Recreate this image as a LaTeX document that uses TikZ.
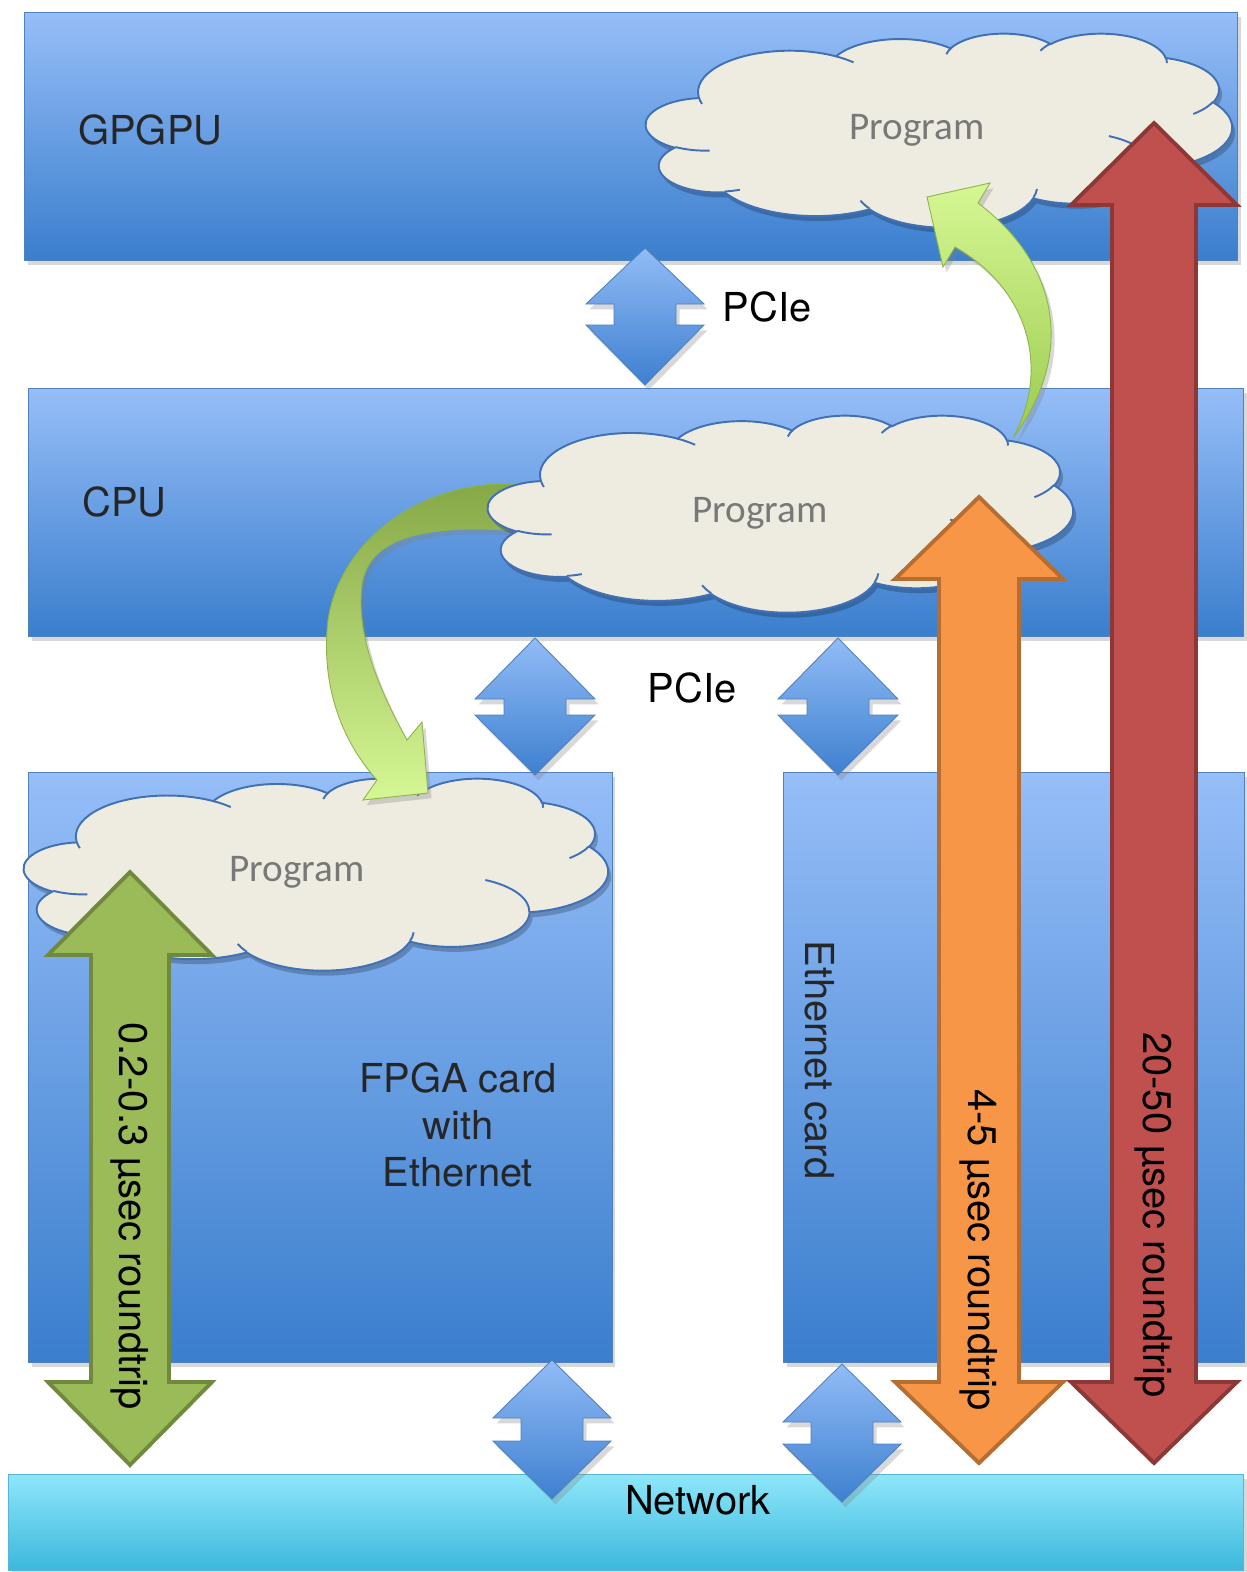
\documentclass[tikz,border=0pt]{standalone}
\usepackage{fontspec}
\setmainfont{TeX Gyre Heros}
\newfontfamily\progfont{Carlito}
\usetikzlibrary{shadows,calc}

\definecolor{boxtop}{RGB}{150,190,248}
\definecolor{boxbot}{RGB}{58,126,205}
\definecolor{boxline}{RGB}{79,129,189}
\definecolor{atop}{RGB}{145,188,246}
\definecolor{abot}{RGB}{62,128,208}
\definecolor{nettop}{RGB}{142,231,250}
\definecolor{netbot}{RGB}{60,184,220}
\definecolor{netline}{RGB}{90,180,215}
\definecolor{cloudfill}{RGB}{238,236,225}
\definecolor{cloudline}{RGB}{65,113,180}
\definecolor{progtext}{RGB}{120,120,120}
\definecolor{redfill}{RGB}{192,80,77}
\definecolor{redline}{RGB}{140,56,54}
\definecolor{orafill}{RGB}{247,150,70}
\definecolor{oraline}{RGB}{182,109,49}
\definecolor{grnfill}{RGB}{155,187,89}
\definecolor{grnline}{RGB}{113,137,63}
\definecolor{lgtop}{RGB}{214,247,148}
\definecolor{lgbot}{RGB}{156,203,80}
\definecolor{dgtop}{RGB}{135,168,70}
\definecolor{lgline}{RGB}{140,180,75}
\definecolor{txt}{RGB}{38,38,38}

\tikzset{
  shadowed/.style={drop shadow={shadow xshift=2pt, shadow yshift=-3pt, opacity=0.3}},
  box/.style={draw=boxline, line width=0.4pt, top color=boxtop, bottom color=boxbot,
    shadowed, inner sep=0pt, outer sep=0pt, anchor=north west},
  netbox/.style={draw=netline, line width=0.4pt, top color=nettop, bottom color=netbot,
    shadowed, inner sep=0pt, outer sep=0pt, anchor=north west},
  blockblue/.style={draw=boxline, line width=0.5pt, top color=atop, bottom color=abot, shadowed},
  blockred/.style={draw=redline, line width=2.2pt, fill=redfill, line join=miter},
  blockora/.style={draw=oraline, line width=2.2pt, fill=orafill, line join=miter},
  blockgrn/.style={draw=grnline, line width=2.2pt, fill=grnfill, line join=miter},
  cloudbody/.style={draw=cloudline, line width=1.1pt, fill=cloudfill},
  cloudinner/.style={draw=cloudline, line width=1.1pt},
  cloudshadow/.style={fill=black, opacity=0.22},
  lbl/.style={text=txt, font={\fontsize{22.7}{26.7}\selectfont}, inner sep=0pt},
  blbl/.style={text=black, font={\fontsize{22.7}{26.7}\selectfont}, inner sep=0pt},
  prog/.style={text=progtext, font={\progfont\fontsize{22.3}{26}\selectfont}, inner sep=0pt},
  curvedup/.style={draw=lgline, line width=0.5pt, top color=lgtop, bottom color=lgbot, shadowed},
  curveddown/.style={draw=lgline, line width=0.5pt, top color=dgtop, bottom color=lgtop, shadowed},
}

% #1 style, #2 cx, #3 top, #4 bottom, #5 head half-width, #6 shaft half-width, #7 top head length, #8 bottom head length
\newcommand{\blockarrow}[8]{%
  \path[#1] ({#2},{#3}) -- ({#2+#5},{#3+#7}) -- ({#2+#6},{#3+#7}) -- ({#2+#6},{#4-#8})
    -- ({#2+#5},{#4-#8}) -- ({#2},{#4}) -- ({#2-#5},{#4-#8}) -- ({#2-#6},{#4-#8})
    -- ({#2-#6},{#3+#7}) -- ({#2-#5},{#3+#7}) -- cycle;}

% elliptic arc given by geometric start angle and sweep (as in a preset cloud outline)
\newcommand{\defarc}[5]{%
  \pgfmathsetmacro\tmpa{atan2((#2)*sin(#4),(#3)*cos(#4))}%
  \pgfmathsetmacro\tmpb{atan2((#2)*sin((#4)+(#5)),(#3)*cos((#4)+(#5)))}%
  \pgfmathsetmacro\tmpd{\tmpb-\tmpa}%
  \pgfmathsetmacro\tmpd{((#5)>0)*(\tmpd<0)*360-((#5)<0)*(\tmpd>0)*360+\tmpd}%
  \expandafter\xdef\csname cas#1\endcsname{\tmpa}%
  \expandafter\xdef\csname cad#1\endcsname{\tmpd}%
}
\defarc{A}{675.3}{919.0}{-190.4875}{123.7805}
\defarc{B}{533.3}{726.7}{-144.1024}{89.9452}
\defarc{C}{436.5}{594.5}{-145.8079}{99.7230}
\defarc{D}{485.7}{659.5}{-130.9861}{117.2417}
\defarc{E}{533.3}{727.3}{-78.7089}{109.0269}
\defarc{F}{677.5}{922.0}{-46.2673}{130.2690}
\defarc{G}{578.5}{786.7}{0.6250}{114.0333}
\defarc{H}{675.2}{921.5}{22.4516}{115.1726}
\defarc{I}{772.0}{1054.3}{66.2426}{75.7110}
\defarc{J}{436.0}{591.8}{-274.9421}{146.7356}
\defarc{K}{434.5}{594.5}{-246.8285}{152.5189}
\defarc{La}{434.5}{594.5}{86.7420}{26.4295}
\defarc{Lb}{436.0}{591.8}{73.6105}{11.4475}
\defarc{Lc}{675.2}{921.5}{137.6242}{14.0811}
\defarc{Ld}{675.2}{921.5}{6.4533}{15.9984}
\defarc{Le}{578.5}{786.7}{-70.2924}{70.9174}
\defarc{Lf}{533.3}{727.3}{30.3180}{27.7515}
\defarc{Lg}{485.7}{659.5}{-13.7443}{14.8589}
\defarc{Lh}{485.7}{659.5}{-149.1815}{18.1954}
\defarc{Li}{436.5}{594.5}{-163.4943}{17.6864}
\defarc{Lj}{675.3}{919.0}{-66.7070}{12.3194}
\defarc{Lk}{675.3}{919.0}{157.6544}{11.8582}

\newcommand{\cloudpath}{(390,1437)
  arc[x radius=675.3, y radius=919.0, start angle=\casA, delta angle=\cadA]
  arc[x radius=533.3, y radius=726.7, start angle=\casB, delta angle=\cadB]
  arc[x radius=436.5, y radius=594.5, start angle=\casC, delta angle=\cadC]
  arc[x radius=485.7, y radius=659.5, start angle=\casD, delta angle=\cadD]
  arc[x radius=533.3, y radius=727.3, start angle=\casE, delta angle=\cadE]
  arc[x radius=677.5, y radius=922.0, start angle=\casF, delta angle=\cadF]
  arc[x radius=578.5, y radius=786.7, start angle=\casG, delta angle=\cadG]
  arc[x radius=675.2, y radius=921.5, start angle=\casH, delta angle=\cadH]
  arc[x radius=772.0, y radius=1054.3, start angle=\casI, delta angle=\cadI]
  arc[x radius=436.0, y radius=591.8, start angle=\casJ, delta angle=\cadJ]
  arc[x radius=434.5, y radius=594.5, start angle=\casK, delta angle=\cadK] -- cycle}
\newcommand{\cloudlines}{%
  (469.3,2617.7) arc[x radius=434.5, y radius=594.5, start angle=\casLa, delta angle=\cadLa]
  (692.8,3489.9) arc[x radius=436.0, y radius=591.8, start angle=\casLb, delta angle=\cadLb]
  (1647.8,3909.0) arc[x radius=675.2, y radius=921.5, start angle=\casLc, delta angle=\cadLc]
  (2882.7,3475.1) arc[x radius=675.2, y radius=921.5, start angle=\casLd, delta angle=\cadLd]
  (3412.9,2295.4) arc[x radius=578.5, y radius=786.7, start angle=\casLe, delta angle=\cadLe]
  (4179.8,1535.4) arc[x radius=533.3, y radius=727.3, start angle=\casLf, delta angle=\cadLf]
  (3832.4,542.6) arc[x radius=485.7, y radius=659.5, start angle=\casLg, delta angle=\cadLg]
  (2907.8,395.2) arc[x radius=485.7, y radius=659.5, start angle=\casLh, delta angle=\cadLh]
  (2214.1,472.0) arc[x radius=436.5, y radius=594.5, start angle=\casLi, delta angle=\cadLi]
  (1400.0,519.2) arc[x radius=675.3, y radius=919.0, start angle=\casLj, delta angle=\cadLj]
  (412.7,1578.9) arc[x radius=675.3, y radius=919.0, start angle=\casLk, delta angle=\cadLk]}

% #1 left, #2 top, #3 width, #4 height, #5 name
\newcommand{\cloudshape}[5]{%
  \begin{scope}[shift={({#1+3},{#2+5})}, xscale=#3/4320, yscale=#4/4320]
    \path[cloudshadow] \cloudpath;
  \end{scope}
  \begin{scope}[shift={(#1,#2)}, xscale=#3/4320, yscale=#4/4320]
    \path[cloudbody] \cloudpath;
    \path[cloudinner] \cloudlines;
  \end{scope}
  \coordinate (#5) at ({#1+#3/2},{#2+#4/2});}

\begin{document}
\begin{tikzpicture}[x=0.02cm,y=-0.02cm]
\useasboundingbox (0,0) rectangle (1247,1572);
\fill[white] (0,0) rectangle (1247,1572);

% boxes
\node[box, minimum width=24.28cm, minimum height=4.96cm] (gpgpu) at (24,12) {};
\node[box, minimum width=24.32cm, minimum height=4.96cm] (cpu) at (28,388) {};
\node[box, minimum width=11.68cm, minimum height=11.8cm] (fpga) at (28,772) {};
\node[box, minimum width=9.22cm, minimum height=11.8cm] (eth) at (783,772) {};
\node[netbox, minimum width=24.72cm, minimum height=1.92cm] (net) at (8,1474) {};

% PCIe block arrows
\blockarrow{blockblue}{645}{248}{385}{59}{31}{56}{60}
\blockarrow{blockblue}{535}{638}{775}{60}{31}{61}{60}
\blockarrow{blockblue}{838}{638}{775}{60}{31}{61}{60}

% clouds
\cloudshape{646}{33}{586}{194}{gcloud}
\cloudshape{24}{778}{584}{192}{fcloud}

% curved arrow CPU -> FPGA
\path[curveddown] (530,484) -- (505,484) .. controls (420,484) and (340,540) .. (328,620)
  .. controls (320,690) and (345,745) .. (377,780) -- (363,800) -- (428,793) -- (422,722)
  -- (407,740) .. controls (385,700) and (355,640) .. (362,585)
  .. controls (368,540) and (420,525) .. (505,530) -- (530,530) -- cycle;

\cloudshape{488}{415}{585}{197}{ccloud}

% curved arrow CPU -> GPGPU
\path[curvedup] (1013,438) .. controls (1075,355) and (1060,265) .. (978,203) -- (990,183)
  -- (927,197) -- (943,267) -- (955,247) .. controls (1030,290) and (1050,370) .. (1013,438) -- cycle;

% program labels
\node[prog] (p1) at (917,130) {Program};
\node[prog] (p2) at (760,513) {Program};
\node[prog] (p3) at (297,872) {Program};

% box labels
\node[lbl, anchor=west] (tg) at (78,130) {GPGPU};
\node[lbl, anchor=west] (tc) at (82,502) {CPU};
\node[blbl] (pcie1) at (767,307) {PCIe};
\node[blbl] (pcie2) at (692,688) {PCIe};
\node[lbl, align=center] (tf) at (458,1125) {FPGA card\\with\\Ethernet};
\node[lbl, rotate=-90] (te) at (820,1060) {Ethernet card};

% network block arrows
\blockarrow{blockblue}{552}{1360}{1499}{59}{31}{58}{58}
\blockarrow{blockblue}{842}{1364}{1502}{59}{31}{58}{58}
\node[blbl] (tn) at (698,1500) {Network};

% roundtrip arrows
\blockarrow{blockgrn}{130}{872}{1465}{82}{39}{83}{83}
\blockarrow{blockora}{979}{497}{1463}{84}{40}{82}{81}
\blockarrow{blockred}{1154}{123}{1463}{83}{42}{82}{81}
\node[blbl, rotate=-90] (rg) at (130,1216) {0.2-0.3 µsec roundtrip};
\node[blbl, rotate=-90] (ro) at (979,1250) {4-5 µsec roundtrip};
\node[blbl, rotate=-90] (rr) at (1154,1215) {20-50 µsec roundtrip};
\end{tikzpicture}
\end{document}
